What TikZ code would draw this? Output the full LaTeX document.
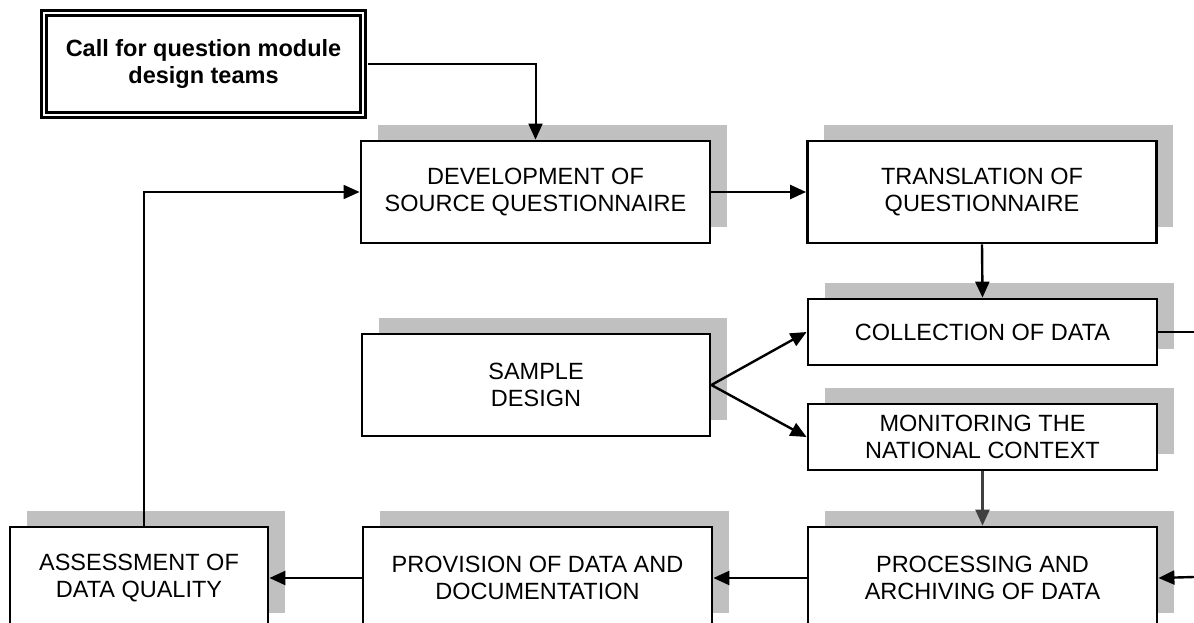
\documentclass[tikz,border=0pt]{standalone}
\usepackage{fontspec}
\setmainfont{Liberation Sans}
\usepackage{tikz}
\usetikzlibrary{positioning,arrows.meta,shadows}
\definecolor{shadowgray}{HTML}{C0C0C0}
\definecolor{arrowgray}{HTML}{404040}
\newcommand{\stagefont}{\fontsize{23.5}{27}\selectfont}

\begin{document}
\begin{tikzpicture}[x=1pt,y=-1pt,
    stage/.style={draw, line width=2.8pt, fill=white, align=center, font=\stagefont,
      inner sep=0pt, minimum width=349pt, minimum height=102pt,
      drop shadow={shadow xshift=16.5pt, shadow yshift=16pt, fill=shadowgray, opacity=1}},
    thin stage/.style={stage, minimum height=66pt},
    callbox/.style={draw, double, double distance=2pt, line width=2.6pt, align=center,
      font=\bfseries\stagefont, inner sep=0pt, minimum width=319pt, minimum height=102pt},
    link/.style={line width=2.4pt, -{Triangle[length=16pt,width=14pt]}}]
    \useasboundingbox (0,0) rectangle (1194,623);
    \clip (0,0) rectangle (1194,623);

    % Stages
    \node[callbox] (call) at (203.5,64) {Call for question module\\design teams};
    \node[stage] (dev) at (535.5,192) {DEVELOPMENT OF\\SOURCE QUESTIONNAIRE};
    \node[stage] (trans) at (982,192) {TRANSLATION OF\\QUESTIONNAIRE};
    \node[thin stage] (coll) at (982.5,332) {COLLECTION OF DATA};
    \node[thin stage] (mon) at (982.5,437) {MONITORING THE\\NATIONAL CONTEXT};
    \node[stage, minimum width=348pt] (samp) at (536,385) {SAMPLE\\DESIGN};
    \node[stage] (proc) at (982.5,578) {PROCESSING AND\\ARCHIVING OF DATA};
    \node[stage] (prov) at (537.5,578) {PROVISION OF DATA AND\\DOCUMENTATION};
    \node[stage, minimum width=258pt] (assess) at (139,578) {ASSESSMENT OF\\DATA QUALITY};
    \coordinate (collout) at (1194,332);
    \coordinate (procin) at (1194,577);

    % Flow
    \draw[link, line width=2pt] ([xshift=3.5pt]call.east) -| (dev.north);
    \draw[link] (dev.east) -- (trans.west);
    \draw[link] (trans.south) -- (coll.north);
    \draw[link] (samp.east) -- (coll.west);
    \draw[link] (samp.east) -- (mon.west);
    \draw[link, arrowgray] (mon.south) -- (proc.north);
    \draw[line width=1.8pt] (coll.east) -- (collout);
    \draw[link] (procin) -- (proc.east);
    \draw[link] (proc.west) -- (prov.east);
    \draw[link] (prov.west) -- (assess.east);
    % Feedback loop
    \draw[link, line width=1.8pt] ([xshift=5pt]assess.north) |- (dev.west);
\end{tikzpicture}
\end{document}
